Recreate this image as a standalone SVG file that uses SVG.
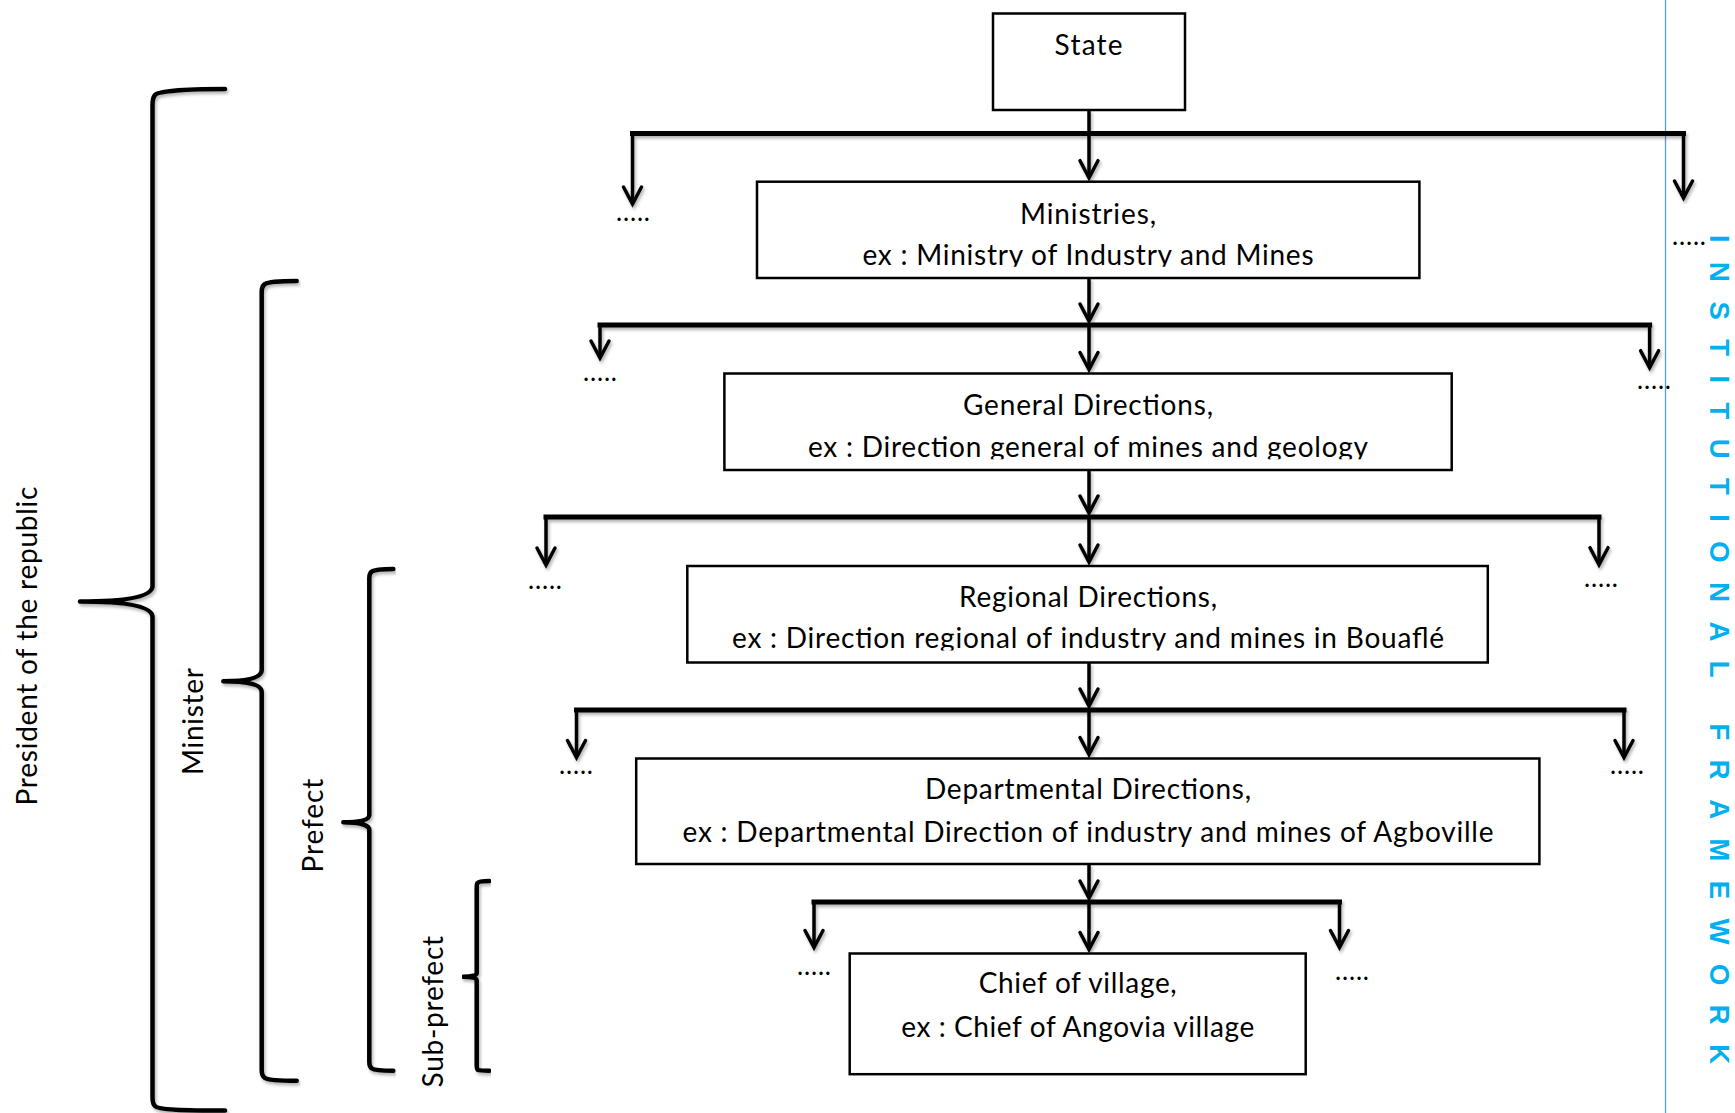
<svg xmlns="http://www.w3.org/2000/svg" width="1735" height="1113" viewBox="0 0 1735 1113">
<style>
  .box { fill: #ffffff; stroke: #000000; stroke-width: 2.5; }
  .t { font-family: Lato, "Liberation Sans", sans-serif; font-size: 28px; fill: #000000; }
  .dots { font-family: Lato, "Liberation Sans", sans-serif; font-size: 26px; fill: #000000; }
  .ln { fill: none; stroke: #000000; stroke-width: 3.5; }
  .bar { fill: none; stroke: #000000; stroke-width: 5; stroke-linecap: square; }
  .arr { fill: none; stroke: #000000; stroke-width: 3.5; marker-end: url(#ah); }
  .brace { fill: none; stroke: #000000; stroke-width: 4.5; stroke-linecap: round; stroke-linejoin: round; }
  .blue { font-family: "Liberation Sans", Arial, sans-serif; font-size: 27.5px; font-weight: bold; fill: #00b0f0; }
</style>
<defs>
  <marker id="ah" markerUnits="userSpaceOnUse" viewBox="-20 -12 25 24" markerWidth="25" markerHeight="24" refX="-2" refY="0" orient="auto">
    <path d="M-17,-9 L0,0 L-17,9" fill="none" stroke="#000000" stroke-width="3.5" stroke-linecap="round" stroke-linejoin="miter"/>
  </marker>
  <filter id="sh" x="-5%" y="-5%" width="110%" height="115%">
    <feDropShadow dx="1.5" dy="2.5" stdDeviation="1.8" flood-color="#000000" flood-opacity="0.3"/>
  </filter>
  <clipPath id="clipMin"><rect x="757" y="181.7" width="662.4" height="85"/></clipPath>
  <clipPath id="clipGen"><rect x="724.4" y="373.5" width="727.3" height="85.8"/></clipPath>
  <clipPath id="clipReg"><rect x="687.3" y="566" width="800.5" height="84.5"/></clipPath>
</defs>

<rect width="1735" height="1113" fill="#ffffff"/>

<!-- blue frame line and vertical label -->
<g id="framework-label">
  <line x1="1665.5" y1="0" x2="1665.5" y2="1113" stroke="#5b9bd5" stroke-width="1.3"/>
  <text class="blue" transform="translate(1710,235) rotate(90)" textLength="829" lengthAdjust="spacing">INSTITUTIONAL FRAMEWORK</text>
</g>

<!-- connectors -->
<g id="connectors" filter="url(#sh)">
  <!-- level 1 -->
  <path class="ln" d="M1089,110 V133.5"/>
  <path class="bar" d="M632.5,133.5 H1683.5"/>
  <path class="arr" d="M632.5,133.5 V202"/>
  <path class="arr" d="M1089,133.5 V175.7"/>
  <path class="arr" d="M1683.5,133.5 V196"/>
  <!-- level 2 -->
  <path class="arr" d="M1089,278 V319"/>
  <path class="bar" d="M600,325 H1649.6"/>
  <path class="arr" d="M600,325 V356"/>
  <path class="arr" d="M1089,325 V367.5"/>
  <path class="arr" d="M1649.6,325 V365.7"/>
  <!-- level 3 -->
  <path class="arr" d="M1089,470 V511"/>
  <path class="bar" d="M546,517 H1599"/>
  <path class="arr" d="M546,517 V563"/>
  <path class="arr" d="M1089,517 V560"/>
  <path class="arr" d="M1599,517 V562.7"/>
  <!-- level 4 -->
  <path class="arr" d="M1089,662.5 V704"/>
  <path class="bar" d="M576.5,710 H1624"/>
  <path class="arr" d="M576.5,710 V755.5"/>
  <path class="arr" d="M1089,710 V752.5"/>
  <path class="arr" d="M1624,710 V755.5"/>
  <!-- level 5 -->
  <path class="arr" d="M1089,864 V896"/>
  <path class="bar" d="M814,902 H1339.5"/>
  <path class="arr" d="M814,902 V945.5"/>
  <path class="arr" d="M1089,902 V947.5"/>
  <path class="arr" d="M1339.5,902 V945.5"/>
</g>

<!-- ellipsis markers -->
<g id="ellipses">
  <text class="dots" x="616" y="221" textLength="34">.....</text>
  <text class="dots" x="1672" y="245" textLength="34">.....</text>
  <text class="dots" x="583" y="381" textLength="34">.....</text>
  <text class="dots" x="1637" y="389" textLength="34">.....</text>
  <text class="dots" x="528" y="589" textLength="34">.....</text>
  <text class="dots" x="1584" y="587" textLength="34">.....</text>
  <text class="dots" x="559" y="773.5" textLength="34">.....</text>
  <text class="dots" x="1610" y="773.5" textLength="34">.....</text>
  <text class="dots" x="797" y="974.5" textLength="34">.....</text>
  <text class="dots" x="1335" y="980" textLength="34">.....</text>
</g>

<!-- nodes -->
<g id="state">
  <rect class="box" x="993" y="13.5" width="192" height="96.5"/>
  <text class="t" x="1088.6" y="55" text-anchor="middle" textLength="68">State</text>
</g>

<g id="ministries">
  <rect class="box" x="757" y="181.7" width="662.4" height="96.3"/>
  <g clip-path="url(#clipMin)">
    <text class="t" x="1088" y="223.5" text-anchor="middle" textLength="136">Ministries,</text>
    <text class="t" x="1088" y="264.5" text-anchor="middle" textLength="451">ex : Ministry of Industry and Mines</text>
  </g>
</g>

<g id="general-directions">
  <rect class="box" x="724.4" y="373.5" width="727.3" height="96.5"/>
  <g clip-path="url(#clipGen)">
    <text class="t" x="1088" y="415" text-anchor="middle" textLength="250">General Directions,</text>
    <text class="t" x="1088" y="456.5" text-anchor="middle" textLength="560">ex : Direction general of mines and geology</text>
  </g>
</g>

<g id="regional-directions">
  <rect class="box" x="687.3" y="566" width="800.5" height="96.5"/>
  <g clip-path="url(#clipReg)">
    <text class="t" x="1088" y="606.7" text-anchor="middle" textLength="258">Regional Directions,</text>
    <text class="t" x="1088" y="648" text-anchor="middle" textLength="712">ex : Direction regional of industry and mines in Bouaflé</text>
  </g>
</g>

<g id="departmental-directions">
  <rect class="box" x="636.2" y="758.5" width="903.2" height="105.5"/>
  <text class="t" x="1088" y="799" text-anchor="middle" textLength="326">Departmental Directions,</text>
  <text class="t" x="1088" y="841.5" text-anchor="middle" textLength="811">ex : Departmental Direction of industry and mines of Agboville</text>
</g>

<g id="chief-of-village">
  <rect class="box" x="849.7" y="953.5" width="456" height="120.7"/>
  <text class="t" x="1077.7" y="993.3" text-anchor="middle" textLength="198">Chief of village,</text>
  <text class="t" x="1077.7" y="1036.7" text-anchor="middle" textLength="353">ex : Chief of Angovia village</text>
</g>

<!-- braces with labels -->
<g id="brace-president">
  <path class="brace" filter="url(#sh)" d="M225,89 C185,89 158,91 155,95 Q152.5,98 152.5,105 V586 C152.5,598 120,601.5 80,601.5 C120,601.5 152.5,605 152.5,617 V1097 Q152.5,1104 155,1106 C158,1110 185,1110.5 225,1110.5"/>
  <text class="t" transform="translate(36.5,646) rotate(-90)" text-anchor="middle" textLength="319">President of the republic</text>
</g>

<g id="brace-minister">
  <path class="brace" filter="url(#sh)" d="M296.7,281 C280,281 268,282 265,284 Q261.7,286 261.7,292 V670 C261.7,678 248,681.2 223.3,681.2 C248,681.2 261.7,684.5 261.7,692 V1070 Q261.7,1076 265,1078 C268,1080 280,1080.8 296.7,1080.8"/>
  <text class="t" transform="translate(203,721.5) rotate(-90)" text-anchor="middle" textLength="107">Minister</text>
</g>

<g id="brace-prefect">
  <path class="brace" filter="url(#sh)" d="M393.3,569 C382,569 374,570 372,571.5 Q369.3,573 369.3,578 V815 C369.3,820 360,822.3 343.3,822.3 C360,822.3 369.3,825 369.3,830 V1062 Q369.3,1067 372,1068.5 C374,1070 382,1070.7 393.3,1070.7"/>
  <text class="t" transform="translate(323,825.6) rotate(-90)" text-anchor="middle" textLength="94">Prefect</text>
</g>

<g id="brace-subprefect">
  <path class="brace" filter="url(#sh)" d="M489.3,881 C482,881 478.5,881.5 477.5,883 Q476.7,884 476.7,888 V973 C476.7,975.5 472,976.7 463.3,976.7 C472,976.7 476.7,978 476.7,980.5 V1065 Q476.7,1069 478,1070 C480,1070.7 484,1070.7 489.3,1070.7"/>
  <text class="t" transform="translate(443,1011.7) rotate(-90)" text-anchor="middle" textLength="151.5">Sub-prefect</text>
</g>
</svg>
